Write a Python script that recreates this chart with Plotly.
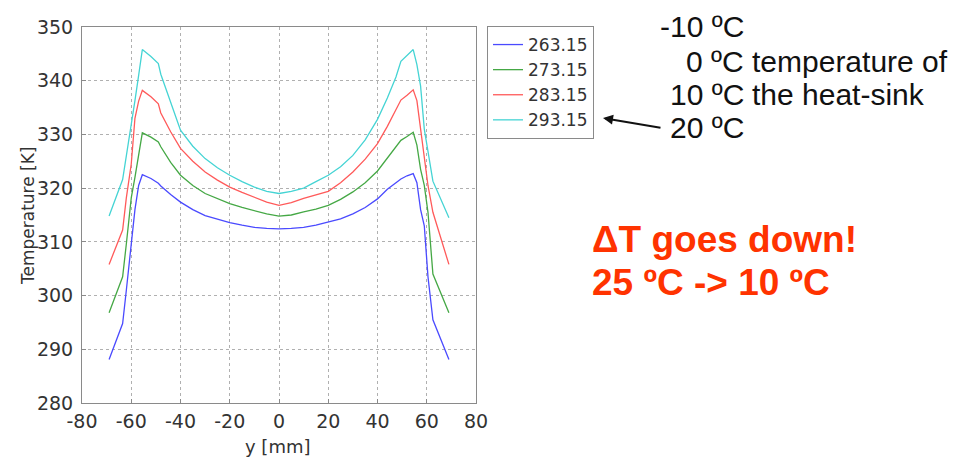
import plotly.graph_objects as go

# ---- data ----
y_mm = [-69, -63.5, -62, -60, -58.5, -57, -55.5, -52, -49, -48, -44, -40, -35, -30, -25, -20, -15, -10, -5, 0,
        5, 10, 15, 20, 25, 30, 35, 40, 44, 47.5, 49.5, 52, 54.5, 56, 57.5, 59, 60.5, 62.5, 69]

T_263 = [288.1, 294.8, 301.0, 309.2, 316.0, 320.5, 322.5, 321.8, 320.9, 320.4, 318.8, 317.4, 316.0, 314.9, 314.2, 313.6, 313.1, 312.7, 312.5, 312.4,
         312.5, 312.7, 313.1, 313.7, 314.3, 315.2, 316.4, 318.0, 319.8, 321.0, 321.7, 322.3, 322.7, 321.0, 316.0, 313.0, 303.5, 295.5, 288.1]
T_273 = [296.8, 303.5, 309.6, 318.2, 322.0, 326.5, 330.3, 329.5, 328.6, 327.7, 324.8, 322.4, 320.5, 319.0, 318.0, 317.1, 316.4, 315.8, 315.2, 314.8,
         315.0, 315.6, 316.1, 316.8, 317.9, 319.3, 321.0, 323.2, 325.7, 327.8, 328.9, 329.6, 330.4, 328.0, 323.5, 320.5, 315.5, 304.0, 296.8]
T_283 = [305.8, 312.2, 318.2, 324.5, 333.0, 336.2, 338.2, 337.0, 335.7, 334.0, 330.5, 327.4, 325.0, 323.0, 321.5, 320.2, 319.2, 318.3, 317.4, 316.8,
         317.3, 318.1, 318.7, 319.4, 321.0, 323.0, 325.4, 328.3, 331.5, 334.5, 336.4, 337.3, 338.3, 336.3, 331.0, 326.5, 320.5, 315.5, 305.8]
T_293 = [314.8, 321.6, 326.0, 331.5, 336.3, 341.0, 345.8, 344.5, 343.2, 341.2, 335.8, 330.8, 327.8, 325.5, 323.8, 322.4, 321.2, 320.2, 319.4, 319.0,
         319.4, 320.0, 321.2, 322.4, 324.0, 326.1, 329.0, 332.8, 336.8, 340.7, 343.6, 344.7, 345.8, 343.0, 339.0, 331.0, 327.0, 321.3, 314.5]

series_names = ["263.15", "273.15", "283.15", "293.15"]
series_vals = [T_263, T_273, T_283, T_293]
series_colors = ["#4a4aff", "#45a845", "#ff5a5a", "#45d4d4"]

x_ticks = [-80, -60, -40, -20, 0, 20, 40, 60, 80]
y_ticks = [280, 290, 300, 310, 320, 330, 340, 350]

# ---- layout geometry (page pixels; the page body has an 8px margin) ----
OFF = 8
W, H = 965 - OFF, 459 - OFF
PLOT_L, PLOT_R, PLOT_T, PLOT_B = 82, 476, 27, 403
PW, PH = PLOT_R - PLOT_L, PLOT_B - PLOT_T
L = PLOT_L - OFF
T = PLOT_T - OFF
R = W - (PLOT_R - OFF)
B = H - (PLOT_B - OFF)


def px(xp):
    return (xp - PLOT_L) / PW


def py(yp):
    return (PLOT_B - yp) / PH


fig = go.Figure()
for name, vals, col in zip(series_names, series_vals, series_colors):
    fig.add_trace(go.Scatter(x=y_mm, y=vals, mode="lines", name=name,
                             line=dict(color=col, width=1.3)))

axis_common = dict(showline=True, mirror=True, linecolor="#8a8a8a", linewidth=1,
                   showgrid=True, gridcolor="#b0b0b0", griddash="dot", gridwidth=1,
                   ticks="inside", ticklen=4, tickcolor="#8a8a8a", zeroline=False,
                   automargin=False,
                   tickfont=dict(family="DejaVu Sans", size=19, color="#333333"))

fig.update_layout(
    width=W, height=H,
    margin=dict(l=L, r=R, t=T, b=B, autoexpand=False),
    paper_bgcolor="white", plot_bgcolor="white",
    xaxis=dict(range=[-80, 80], tickvals=x_ticks, ticktext=[str(v) for v in x_ticks],
               ticklabelstandoff=1, **axis_common),
    yaxis=dict(range=[280, 350], tickvals=y_ticks, ticktext=[str(v) for v in y_ticks],
               ticklabelstandoff=4, **axis_common),
    legend=dict(x=px(487), y=py(26), xanchor="left", yanchor="top",
                bgcolor="white", bordercolor="#8a8a8a", borderwidth=1,
                font=dict(family="DejaVu Sans", size=17, color="#333333"),
                itemwidth=30, tracegroupgap=0),
    showlegend=True,
)

ann = []
# axis titles
ann.append(dict(text="Temperature [K]", x=px(28), y=py(216), xref="paper", yref="paper",
                showarrow=False, textangle=-90, xanchor="center", yanchor="middle",
                font=dict(family="DejaVu Sans", size=17, color="#333333")))
ann.append(dict(text="y [mm]", x=px(278), y=py(446), xref="paper", yref="paper",
                showarrow=False, xanchor="center", yanchor="middle",
                font=dict(family="DejaVu Sans", size=18, color="#333333")))

# black side text
bf = dict(family="Liberation Sans", size=30, color="#111111")
for txt, yy in [("-10 ºC", 26), ("0 ºC", 61), ("10 ºC", 94), ("20 ºC", 128)]:
    ann.append(dict(text=txt, x=px(745), y=py(yy), xref="paper", yref="paper", showarrow=False,
                    xanchor="right", yanchor="middle", borderpad=0, font=bf))
for txt, yy in [("temperature of", 61), ("the heat-sink", 94)]:
    ann.append(dict(text=txt, x=px(751), y=py(yy), xref="paper", yref="paper", showarrow=False,
                    xanchor="left", yanchor="middle", borderpad=0, font=bf))

# arrow pointing to legend
ann.append(dict(text="", x=px(603), y=py(118), xref="paper", yref="paper",
                showarrow=True, ax=59, ay=10, arrowhead=2, arrowsize=1, arrowwidth=2,
                arrowcolor="#111111", standoff=0))

# red remark
rf = dict(family="Liberation Sans", size=37, color="#ff3300")
ann.append(dict(text="<b>ΔT goes down!</b>", x=px(590), y=py(240), xref="paper", yref="paper",
                showarrow=False, xanchor="left", yanchor="middle", font=rf))
ann.append(dict(text="<b>25 ºC -> 10 ºC</b>", x=px(590), y=py(282), xref="paper", yref="paper",
                showarrow=False, xanchor="left", yanchor="middle", font=rf))

fig.update_layout(annotations=ann)
fig.write_html("out.html")
